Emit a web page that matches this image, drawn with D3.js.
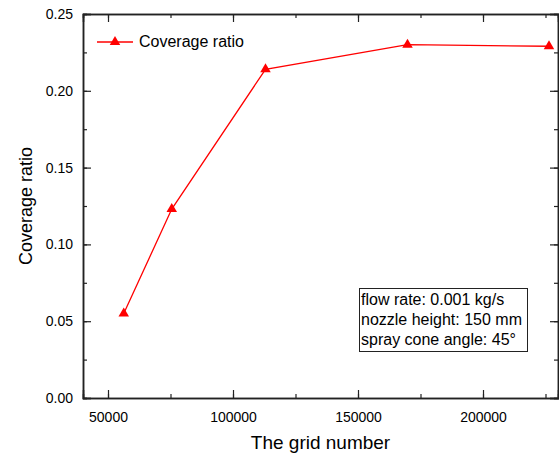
<!DOCTYPE html>
<html>
<head>
<meta charset="utf-8">
<script src="https://cdn.jsdelivr.net/npm/d3@7"></script>
<style>
  body { margin: 0; background: #fff; }
  text { font-family: "Liberation Sans", Arial, sans-serif; fill: #000; }
</style>
</head>
<body>
<script>
var w = 559;
var h = 457;

// data
var gridNumber = [56300, 75500, 113000, 169800, 226400];
var coverage = [0.055, 0.123, 0.214, 0.230, 0.229];
var xTicks = [50000, 100000, 150000, 200000];
var yTicks = [0.00, 0.05, 0.10, 0.15, 0.20, 0.25];
var notes = ["flow rate: 0.001 kg/s", "nozzle height: 150 mm", "spray cone angle: 45\u00b0"];

var pLeft = 83, pRight = 558, pTop = 14, pBottom = 398;

var x = d3.scaleLinear().domain([40000, 230000]).range([pLeft, pRight]);
var y = d3.scaleLinear().domain([0, 0.25]).range([pBottom, pTop]);

var svg = d3.select("body").append("svg").attr("width", w).attr("height", h);

var xMinor = d3.range(50000, 230001, 25000);
var yMinor = d3.range(0, 0.2501, 0.025);

// bottom axis
svg.append("g")
    .attr("transform", "translate(0," + pBottom + ")")
    .call(d3.axisBottom(x).tickValues(xMinor).tickSize(-4).tickFormat(""));
svg.append("g")
    .attr("transform", "translate(0," + pBottom + ")")
    .call(d3.axisBottom(x).tickValues(xTicks).tickSize(-8).tickPadding(14).tickFormat(d3.format("d")));
// top axis
svg.append("g")
    .attr("transform", "translate(0," + pTop + ")")
    .call(d3.axisTop(x).tickValues(xMinor).tickSize(-4).tickFormat(""));
svg.append("g")
    .attr("transform", "translate(0," + pTop + ")")
    .call(d3.axisTop(x).tickValues(xTicks).tickSize(-8).tickFormat(""));
// left axis
svg.append("g")
    .attr("transform", "translate(" + pLeft + ",0)")
    .call(d3.axisLeft(y).tickValues(yMinor).tickSize(-4).tickFormat(""));
svg.append("g")
    .attr("transform", "translate(" + pLeft + ",0)")
    .call(d3.axisLeft(y).tickValues(yTicks).tickSize(-8).tickPadding(10).tickFormat(d3.format(".2f")));
// right axis
svg.append("g")
    .attr("transform", "translate(" + pRight + ",0)")
    .call(d3.axisRight(y).tickValues(yMinor).tickSize(-4).tickFormat(""));
svg.append("g")
    .attr("transform", "translate(" + pRight + ",0)")
    .call(d3.axisRight(y).tickValues(yTicks).tickSize(-8).tickFormat(""));

svg.selectAll(".domain").attr("stroke", "#222").attr("stroke-width", 1.5);
svg.selectAll(".tick line").attr("stroke", "#222").attr("stroke-width", 1.2);
svg.selectAll(".tick text").style("font-size", "14px").style("font-family", "Liberation Sans, Arial, sans-serif");

// axis titles
svg.append("text")
    .attr("x", (pLeft + pRight) / 2)
    .attr("y", 449)
    .attr("text-anchor", "middle")
    .style("font-size", "19px")
    .text("The grid number");
svg.append("text")
    .attr("transform", "translate(32," + ((pTop + pBottom) / 2) + ") rotate(-90)")
    .attr("text-anchor", "middle")
    .style("font-size", "18px")
    .text("Coverage ratio");

// line + markers
var pts = gridNumber.map(function (g, i) { return [g, coverage[i]]; });
var line = d3.line().x(function (d) { return x(d[0]); }).y(function (d) { return y(d[1]); });
svg.append("path")
    .datum(pts)
    .attr("d", line)
    .attr("fill", "none")
    .attr("stroke", "#ff0000")
    .attr("stroke-width", 1.3);

var tri = d3.symbol().type(d3.symbolTriangle).size(48);
svg.selectAll(".mk")
    .data(pts)
    .enter()
    .append("path")
    .attr("class", "mk")
    .attr("d", tri)
    .attr("transform", function (d) { return "translate(" + x(d[0]) + "," + y(d[1]) + ")"; })
    .attr("fill", "#ff0000");

// legend
svg.append("line")
    .attr("x1", 97).attr("x2", 133).attr("y1", 42).attr("y2", 42)
    .attr("stroke", "#ff0000").attr("stroke-width", 1.3);
svg.append("path")
    .attr("d", tri)
    .attr("transform", "translate(115,42)")
    .attr("fill", "#ff0000");
svg.append("text")
    .attr("x", 139).attr("y", 47)
    .style("font-size", "16px")
    .text("Coverage ratio");

// note box
svg.append("rect")
    .attr("x", 359.5).attr("y", 288.5).attr("width", 168).attr("height", 63)
    .attr("fill", "#fff").attr("stroke", "#222").attr("stroke-width", 1);
svg.selectAll(".note")
    .data(notes)
    .enter()
    .append("text")
    .attr("class", "note")
    .attr("x", 361)
    .attr("y", function (d, i) { return 305 + i * 20; })
    .style("font-size", "16px")
    .text(function (d) { return d; });
</script>
</body>
</html>
